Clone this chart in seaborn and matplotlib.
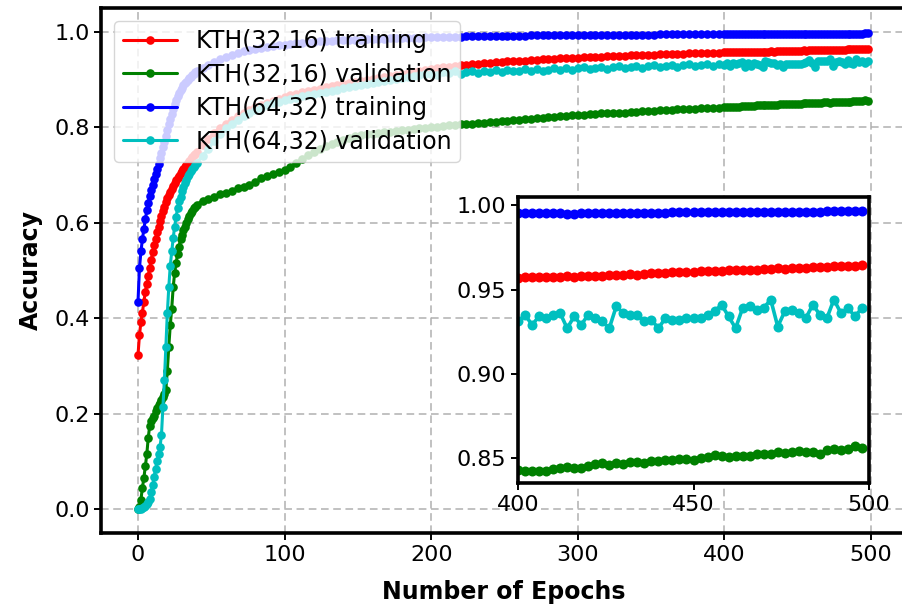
import numpy as np
import pandas as pd
import matplotlib
matplotlib.use("Agg")
import matplotlib.pyplot as plt
import seaborn as sns

# ---------------- data ----------------
EPOCHS = list(range(0, 41)) + list(range(44, 400, 4)) + list(range(400, 500, 2))

LABELS = ["KTH(32,16) training", "KTH(32,16) validation",
          "KTH(64,32) training", "KTH(64,32) validation"]
COLORS = ["#ff0000", "#008000", "#0000ff", "#00bfbf"]

red_train = [
    .323, .365, .392, .412, .435, .455, .472, .488, .505, .522,
    .538, .553, .567, .580, .592, .603, .614, .624, .634, .643,
    .651, .658, .665, .671, .677, .683, .689, .694, .699, .704,
    .708, .712, .717, .721, .725, .729, .733, .737, .741, .744, .748,
    .762, .775, .789, .799, .808, .816, .823, .830, .836, .842,
    .847, .852, .856, .860, .864, .867, .870, .873, .876, .879,
    .881, .884, .886, .888, .890, .892, .895, .897, .900, .902,
    .904, .906, .908, .910, .912, .914, .916, .918, .920, .922,
    .924, .926, .927, .929, .930, .931, .932, .933, .934, .935,
    .936, .937, .938, .939, .940, .940, .941, .942, .943, .943,
    .944, .945, .945, .946, .946, .947, .947, .948, .948, .949,
    .949, .950, .950, .951, .951, .952, .952, .952, .953, .953,
    .954, .954, .954, .955, .955, .955, .956, .956, .956,
    .9570, .9572, .9573, .9572, .9575, .9576, .9576, .9578, .9577, .9580,
    .9581, .9580, .9583, .9585, .9584, .9587, .9590, .9588, .9595, .9597,
    .9596, .9600, .9602, .9605, .9603, .9607, .9608, .9610, .9609, .9612,
    .9614, .9615, .9617, .9619, .9618, .9621, .9622, .9625, .9624, .9627,
    .9629, .9630, .9632, .9634, .9635, .9637, .9638, .9640, .9642, .9645,
]

green_val = [
    .000, .005, .020, .045, .065, .090, .115, .150, .175, .185,
    .190, .196, .205, .212, .218, .222, .228, .235, .242, .250,
    .290, .340, .385, .420, .465, .495, .515, .535, .550, .565,
    .575, .585, .592, .600, .607, .614, .620, .625, .630, .634, .638,
    .646, .650, .655, .660, .662, .667, .672, .676, .680, .686,
    .693, .697, .702, .706, .711, .717, .726, .734, .741, .748,
    .754, .760, .765, .770, .774, .778, .781, .783, .785, .787,
    .788, .790, .791, .793, .794, .795, .797, .798, .799, .800,
    .801, .803, .804, .805, .806, .807, .808, .809, .810, .811,
    .812, .813, .814, .815, .816, .817, .818, .819, .820, .821,
    .822, .823, .824, .825, .826, .826, .827, .828, .829, .829,
    .830, .831, .831, .832, .833, .834, .834, .835, .836, .836,
    .837, .838, .838, .839, .839, .840, .840, .841, .841,
    .8425, .8422, .8424, .8421, .8423, .8432, .8440, .8445, .8438, .8442,
    .8450, .8462, .8470, .8458, .8468, .8465, .8472, .8475, .8470, .8480,
    .8482, .8488, .8485, .8492, .8495, .8488, .8498, .8505, .8515, .8510,
    .8505, .8508, .8512, .8510, .8522, .8525, .8520, .8532, .8528, .8535,
    .8540, .8532, .8536, .8525, .8545, .8552, .8548, .8555, .8570, .8560,
]

blue_train = [
    .435, .505, .540, .565, .587, .607, .626, .642, .656, .668,
    .680, .691, .702, .713, .724, .735, .746, .758, .770, .782,
    .795, .806, .817, .828, .838, .848, .857, .865, .872, .878,
    .883, .888, .892, .896, .900, .903, .906, .909, .912, .915, .918,
    .925, .931, .937, .943, .948, .952, .956, .959, .962, .964,
    .966, .968, .970, .972, .973, .975, .976, .977, .978, .979,
    .980, .981, .981, .982, .983, .983, .984, .984, .985, .985,
    .986, .986, .987, .987, .987, .988, .988, .988, .989, .989,
    .989, .990, .990, .990, .990, .991, .991, .991, .991, .991,
    .992, .992, .992, .992, .992, .992, .993, .993, .993, .993,
    .993, .993, .993, .993, .993, .994, .994, .994, .994, .994,
    .994, .994, .994, .994, .994, .994, .994, .994, .995, .995,
    .995, .995, .995, .995, .995, .995, .995, .995, .995,
    .9952, .9953, .9952, .9953, .9954, .9953, .9952, .9951, .9951, .9952,
    .9953, .9954, .9955, .9955, .9956, .9957, .9957, .9956, .9955, .9955,
    .9956, .9957, .9958, .9958, .9958, .9959, .9959, .9959, .9960, .9960,
    .9961, .9960, .9960, .9961, .9961, .9961, .9962, .9962, .9961, .9962,
    .9962, .9963, .9963, .9963, .9964, .9964, .9964, .9965, .9966, .9966,
]

cyan_val = [
    .000, .000, .001, .002, .004, .007, .011, .016, .022, .035,
    .050, .068, .085, .100, .115, .130, .155, .215, .270, .340,
    .410, .465, .510, .540, .568, .592, .613, .630, .645, .655,
    .666, .675, .683, .690, .697, .703, .709, .713, .717, .721, .725,
    .740, .755, .772, .787, .798, .807, .816, .823, .830, .836,
    .841, .846, .850, .854, .857, .860, .862, .865, .867, .870,
    .872, .875, .877, .879, .882, .884, .886, .888, .890, .893,
    .895, .897, .899, .901, .903, .905, .907, .909, .911, .912,
    .910, .915, .913, .917, .912, .916, .919, .914, .918, .915,
    .920, .916, .921, .917, .919, .922, .918, .923, .919, .921,
    .924, .920, .925, .921, .924, .926, .922, .925, .927, .923,
    .926, .928, .924, .927, .929, .925, .928, .930, .926, .929,
    .931, .927, .930, .932, .928, .931, .933, .929, .932,
    .931, .935, .929, .934, .933, .935, .936, .927, .934, .929,
    .935, .933, .931, .927, .940, .936, .935, .935, .931, .932,
    .927, .933, .932, .932, .933, .933, .933, .935, .937, .941,
    .934, .927, .939, .940, .938, .939, .944, .928, .937, .938,
    .936, .933, .941, .935, .933, .944, .936, .939, .934, .939,
]

SERIES = [red_train, green_val, blue_train, cyan_val]
MAIN_YTICKS = [0.0, 0.2, 0.4, 0.6, 0.8, 1.0]
MAIN_XTICKS = [0, 100, 200, 300, 400, 500]
INSET_YTICKS = [0.85, 0.90, 0.95, 1.00]
INSET_XTICKS = [400, 450, 500]
INSET_START = 400

# ---------------- plotting ----------------
sns.set_style("ticks")
plt.rcParams["font.family"] = ["DejaVu Sans"]
plt.rcParams["text.color"] = "black"
plt.rcParams["axes.labelcolor"] = "black"
plt.rcParams["xtick.color"] = "black"
plt.rcParams["ytick.color"] = "black"

fig = plt.figure(figsize=(9.02, 6.08), dpi=100)
# the reference is cropped on the right: the axes run well past the figure edge
ax = fig.add_axes([101.35 / 902, 75 / 608, 585 * 1.466 / 902, 525 / 608])

frames = []
for lab, vals in zip(LABELS, SERIES):
    frames.append(pd.DataFrame({"epoch": EPOCHS, "acc": vals, "series": lab}))
df = pd.concat(frames, ignore_index=True)

for lab, col in zip(LABELS, COLORS):
    sub = df[df["series"] == lab]
    sns.lineplot(data=sub, x="epoch", y="acc", ax=ax, color=col, label=lab,
                 marker="o", markersize=6.2, markeredgewidth=0,
                 linewidth=2.2, sort=False, errorbar=None)

ax.set_xlim(-25, 560)
ax.set_ylim(-0.05, 1.05)
ax.set_xticks(MAIN_XTICKS)
ax.set_yticks(MAIN_YTICKS)
ax.set_yticklabels([f"{v:.1f}" for v in MAIN_YTICKS])
ax.grid(True, linestyle=(0, (5, 3)), color="#b0b0b0", linewidth=1.1)
ax.tick_params(axis="both", labelsize=16, length=5, width=1.4, direction="out",
               color="black", labelcolor="black")
for sp in ax.spines.values():
    sp.set_linewidth(2.6)
    sp.set_color("black")
ax.spines["right"].set_visible(False)
ax.set_xlabel("")
ax.set_ylabel("Accuracy", fontsize=17, fontweight="bold", labelpad=8, color="black")
# x label centred under the visible part of the axis, as in the reference
fig.text(504 / 902, 16 / 608, "Number of Epochs", fontsize=17, fontweight="bold",
         color="black", ha="center", va="center")

leg = ax.legend(loc="upper left", fontsize=17, handlelength=2.3, framealpha=0.8,
                borderaxespad=0.55, labelspacing=0.4, handletextpad=0.8,
                borderpad=0.35)
for h in leg.legend_handles:
    h.set_linewidth(2.2)
for t in leg.get_texts():
    t.set_color("black")

# inset
axi = fig.add_axes([518 / 902, 125 / 608, 351 / 902, 286 / 608])
late = df[df["epoch"] >= INSET_START]
for lab, col in zip(LABELS, COLORS):
    sub = late[late["series"] == lab]
    sns.lineplot(data=sub, x="epoch", y="acc", ax=axi, color=col, legend=False,
                 marker="o", markersize=7.2, markeredgewidth=0,
                 linewidth=2.6, sort=False, errorbar=None)
axi.set_xlim(400, 500)
axi.set_ylim(0.835, 1.005)
axi.set_xticks(INSET_XTICKS)
axi.set_yticks(INSET_YTICKS)
axi.set_yticklabels([f"{v:.2f}" for v in INSET_YTICKS])
axi.set_xlabel("")
axi.set_ylabel("")
axi.grid(False)
axi.set_facecolor("white")
axi.tick_params(axis="both", labelsize=16, length=5, width=1.4, direction="out",
                color="black", labelcolor="black")
for sp in axi.spines.values():
    sp.set_linewidth(2.6)
    sp.set_color("black")

fig.savefig("out.png", dpi=100)
